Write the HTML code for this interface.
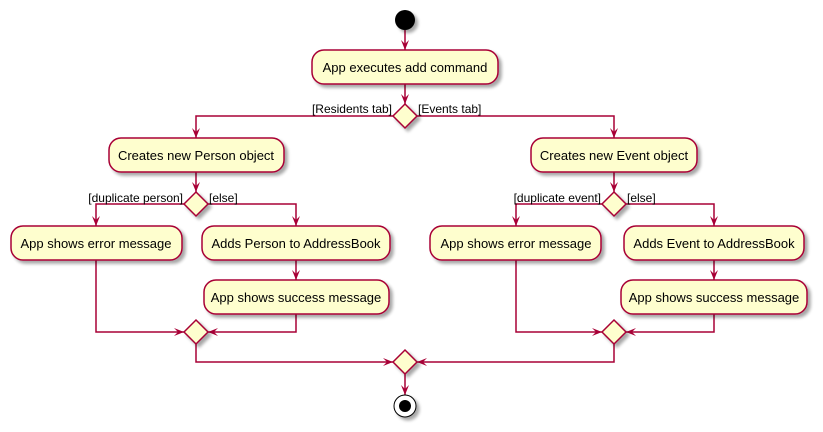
<!DOCTYPE html>
<html><head><meta charset="utf-8"><style>html,body{margin:0;padding:0;background:#fff}svg{display:block}</style></head><body>
<svg width="823" height="432" viewBox="0 0 823 432" xmlns="http://www.w3.org/2000/svg" font-family="Liberation Sans, sans-serif">
<defs>
<filter id="sh" x="-10%" y="-20%" width="130%" height="160%"><feGaussianBlur in="SourceAlpha" stdDeviation="1.5"/><feOffset dx="3" dy="3"/><feComponentTransfer><feFuncA type="linear" slope="0.35"/></feComponentTransfer><feMerge><feMergeNode/><feMergeNode in="SourceGraphic"/></feMerge></filter>
<marker id="a" viewBox="0 0 10 10" refX="10" refY="5" markerWidth="10" markerHeight="10" orient="auto" markerUnits="userSpaceOnUse"><path d="M0,1 L10,5 L0,9 L4,5 Z" fill="#A80036"/></marker>
</defs>
<g fill="none" stroke="#A80036" stroke-width="1.5">
<path d="M405,30 V50" marker-end="url(#a)"/>
<path d="M405,84 V104" marker-end="url(#a)"/>
<path d="M393,116 H196 V138" marker-end="url(#a)"/>
<path d="M417,116 H614 V138" marker-end="url(#a)"/>
<path d="M196,172 V192" marker-end="url(#a)"/>
<path d="M184,204 H96 V226" marker-end="url(#a)"/>
<path d="M208,204 H296 V226" marker-end="url(#a)"/>
<path d="M296,260 V280" marker-end="url(#a)"/>
<path d="M96,260 V332 H184" marker-end="url(#a)"/>
<path d="M296,314 V332 H208" marker-end="url(#a)"/>
<path d="M614,172 V192" marker-end="url(#a)"/>
<path d="M602,204 H516 V226" marker-end="url(#a)"/>
<path d="M626,204 H714 V226" marker-end="url(#a)"/>
<path d="M714,260 V280" marker-end="url(#a)"/>
<path d="M516,260 V332 H602" marker-end="url(#a)"/>
<path d="M714,314 V332 H626" marker-end="url(#a)"/>
<path d="M196,344 V362 H393" marker-end="url(#a)"/>
<path d="M614,344 V362 H417" marker-end="url(#a)"/>
<path d="M405,374 V395" marker-end="url(#a)"/>
</g>
<g fill="#FEFECE" stroke="#A80036" stroke-width="1.5" filter="url(#sh)">
<circle cx="405" cy="20" r="10" fill="#000" stroke="none"/>
<rect x="312" y="50" width="186" height="34" rx="12"/>
<rect x="109" y="138" width="175" height="34" rx="12"/>
<rect x="531" y="138" width="166" height="34" rx="12"/>
<rect x="11" y="226" width="171" height="34" rx="12"/>
<rect x="202" y="226" width="188" height="34" rx="12"/>
<rect x="204" y="280" width="185" height="34" rx="12"/>
<rect x="430" y="226" width="171" height="34" rx="12"/>
<rect x="624" y="226" width="180" height="34" rx="12"/>
<rect x="621" y="280" width="186" height="34" rx="12"/>
<path d="M405,104 L417,116 L405,128 L393,116 Z"/>
<path d="M196,192 L208,204 L196,216 L184,204 Z"/>
<path d="M614,192 L626,204 L614,216 L602,204 Z"/>
<path d="M196,320 L208,332 L196,344 L184,332 Z"/>
<path d="M614,320 L626,332 L614,344 L602,332 Z"/>
<path d="M405,350 L417,362 L405,374 L393,362 Z"/>
<circle cx="405" cy="406" r="11" fill="#fff" stroke="#000" stroke-width="1"/>
</g>
<circle cx="405" cy="406" r="6" fill="#000"/>
<g font-size="13" fill="#000" text-anchor="middle">
<text x="405" y="72">App executes add command</text>
<text x="196" y="160">Creates new Person object</text>
<text x="614" y="160">Creates new Event object</text>
<text x="96" y="248">App shows error message</text>
<text x="296" y="248">Adds Person to AddressBook</text>
<text x="296" y="302">App shows success message</text>
<text x="516" y="248">App shows error message</text>
<text x="714" y="248">Adds Event to AddressBook</text>
<text x="714" y="302">App shows success message</text>
</g>
<g font-size="12" fill="#000">
<text x="392" y="113" text-anchor="end">[Residents tab]</text>
<text x="418" y="113">[Events tab]</text>
<text x="183" y="202" text-anchor="end">[duplicate person]</text>
<text x="209" y="202">[else]</text>
<text x="601" y="202" text-anchor="end">[duplicate event]</text>
<text x="627" y="202">[else]</text>
</g>
</svg>
</body></html>
